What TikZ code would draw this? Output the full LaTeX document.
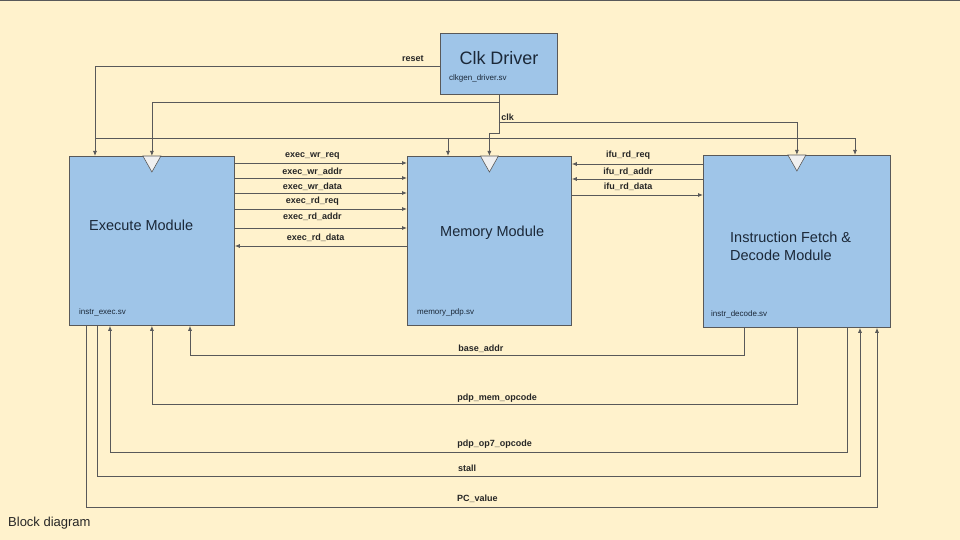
\documentclass[tikz,border=0pt]{standalone}
\usepackage{fontspec}
\setmainfont{Liberation Sans}
\usetikzlibrary{arrows.meta,calc}

\definecolor{paper}{HTML}{FFF2CC}
\definecolor{boxblue}{HTML}{9FC5E8}
\definecolor{edge}{HTML}{595959}
\definecolor{inkblue}{HTML}{1B2838}

\tikzset{
  module/.style={draw=edge, fill=boxblue, line width=0.8pt, anchor=north west, inner sep=0pt},
  wire/.style={draw=edge, line width=0.8pt, -{Latex[length=5pt,width=4pt]}},
  sig/.style={font=\fontsize{9}{10}\selectfont\bfseries, text=black!85, inner sep=2pt},
  modname/.style={font=\fontsize{14.5}{17.5}\selectfont, text=inkblue, anchor=west, align=left, inner sep=0pt},
  srcfile/.style={font=\fontsize{8}{9}\selectfont, text=inkblue, anchor=west, inner sep=0pt},
}

% clock input mark on top of a module
\newcommand{\clockmark}[1]{\draw[draw=edge, fill=gray!12, line width=0.6pt] ($(#1)+(-9,0)$) -- ++(18,0) -- ++(-9,16) -- cycle;}

\begin{document}
\begin{tikzpicture}[x=1pt, y=-1pt]
    % Step 1: page
    \useasboundingbox (0,0) rectangle (960,540);
    \fill[paper] (0,0) rectangle (960,540);
    \draw[edge, line width=1.5pt] (0,0) -- (960,0);

    % Step 2: the modules
    \node[module, minimum width=117pt, minimum height=61pt] (clkdrv) at (440,33) {};
    \node[module, minimum width=165pt, minimum height=169pt] (exec) at (69,156) {};
    \node[module, minimum width=164pt, minimum height=169pt] (mem) at (407,156) {};
    \node[module, minimum width=187pt, minimum height=172pt] (ifd) at (703,155) {};

    % Step 3: names and source files
    \node[modname, anchor=center, font=\fontsize{18}{20}\selectfont] (clkname) at ($(clkdrv.north west)+(59,25)$) {Clk Driver};
    \node[srcfile] (clkfile) at ($(clkdrv.north west)+(9,45)$) {clkgen\_driver.sv};
    \node[modname] (execname) at ($(exec.north west)+(20,69)$) {Execute Module};
    \node[srcfile] (execfile) at ($(exec.north west)+(10,156)$) {instr\_exec.sv};
    \node[modname] (memname) at ($(mem.north west)+(33,77)$) {Memory Module};
    \node[srcfile] (memfile) at ($(mem.north west)+(10,156)$) {memory\_pdp.sv};
    \node[modname] (ifdname) at ($(ifd.north west)+(27,91.5)$) {Instruction Fetch \&\\Decode Module};
    \node[srcfile] (ifdfile) at ($(ifd.north west)+(8,159)$) {instr\_decode.sv};

    % Step 4: clock marks
    \foreach \m in {exec,mem,ifd} {\clockmark{\m.north}}

    % Step 5: reset and clk
    \draw[wire] ($(clkdrv.north west)+(0,33)$) node[sig, above left, xshift=-14pt, yshift=2pt] {reset} -| ($(exec.north west)+(26,0)$);
    \draw[wire] ($(exec.north west)+(26,-18)$) -| ($(ifd.north west)+(152,0)$);
    \draw[wire] ($(mem.north west)+(41,-18)$) -- ($(mem.north west)+(41,0)$);
    \draw[wire] (clkdrv.south) -- ++(0,8) -| (exec.north);
    \draw[wire] (clkdrv.south) |- ($(mem.north)+(0,-23)$) -- (mem.north);
    \draw[wire] ($(clkdrv.south)+(0,28)$) node[sig, above right] {clk} -| (ifd.north);

    % Step 6: execute <-> memory
    \foreach \dy/\lift/\txt in {7/1/exec\_wr\_req, 22/0/exec\_wr\_addr, 37/0/exec\_wr\_data,
                                53/1/exec\_rd\_req, 72/5/exec\_rd\_addr}
        \draw[wire] ($(exec.north east)+(0,\dy)$) -- node[sig, above, pos=0.45, yshift=\lift pt] {\txt} ($(mem.north west)+(0,\dy)$);
    \draw[wire] ($(mem.north west)+(0,90)$) -- node[sig, above, pos=0.53, yshift=2pt] {exec\_rd\_data} ($(exec.north east)+(0,90)$);

    % Step 7: memory <-> fetch/decode
    \draw[wire] ($(ifd.north west)+(0,9)$) -- node[sig, above, pos=0.57, yshift=2pt] {ifu\_rd\_req} ($(mem.north east)+(0,8)$);
    \draw[wire] ($(ifd.north west)+(0,24)$) -- node[sig, above, pos=0.57, yshift=1pt] {ifu\_rd\_addr} ($(mem.north east)+(0,23)$);
    \draw[wire] ($(mem.north east)+(0,39)$) -- node[sig, above, pos=0.43, yshift=2pt] {ifu\_rd\_data} ($(ifd.north west)+(0,40)$);

    % Step 8: fetch/decode <-> execute, below the modules
    \draw[wire] ($(ifd.south west)+(41,0)$) -- ++(0,28) -- node[sig, above right, pos=0.52, yshift=1pt] {base\_addr} ++(-554,0) -- ($(exec.south west)+(121,0)$);
    \draw[wire] (ifd.south) -- ++(0,77) -| node[sig, above right, pos=0.265] {pdp\_mem\_opcode} (exec.south);
    \draw[wire] ($(ifd.south west)+(144,0)$) -- ++(0,125) -| node[sig, above right, pos=0.266, yshift=2pt] {pdp\_op7\_opcode} ($(exec.south west)+(41,0)$);
    \draw[wire] ($(exec.south west)+(28,0)$) -- ++(0,151) -| node[sig, above right, pos=0.235, yshift=3pt] {stall} ($(ifd.south west)+(157,0)$);
    \draw[wire] ($(exec.south west)+(17,0)$) -- ++(0,182) -| node[sig, above right, pos=0.233, yshift=3pt] {PC\_value} ($(ifd.south west)+(174,0)$);

    % Step 9: caption
    \node[anchor=west, font=\fontsize{13}{15}\selectfont, text=black!85, inner sep=0pt] (caption) at (8,523) {Block diagram};
\end{tikzpicture}
\end{document}
